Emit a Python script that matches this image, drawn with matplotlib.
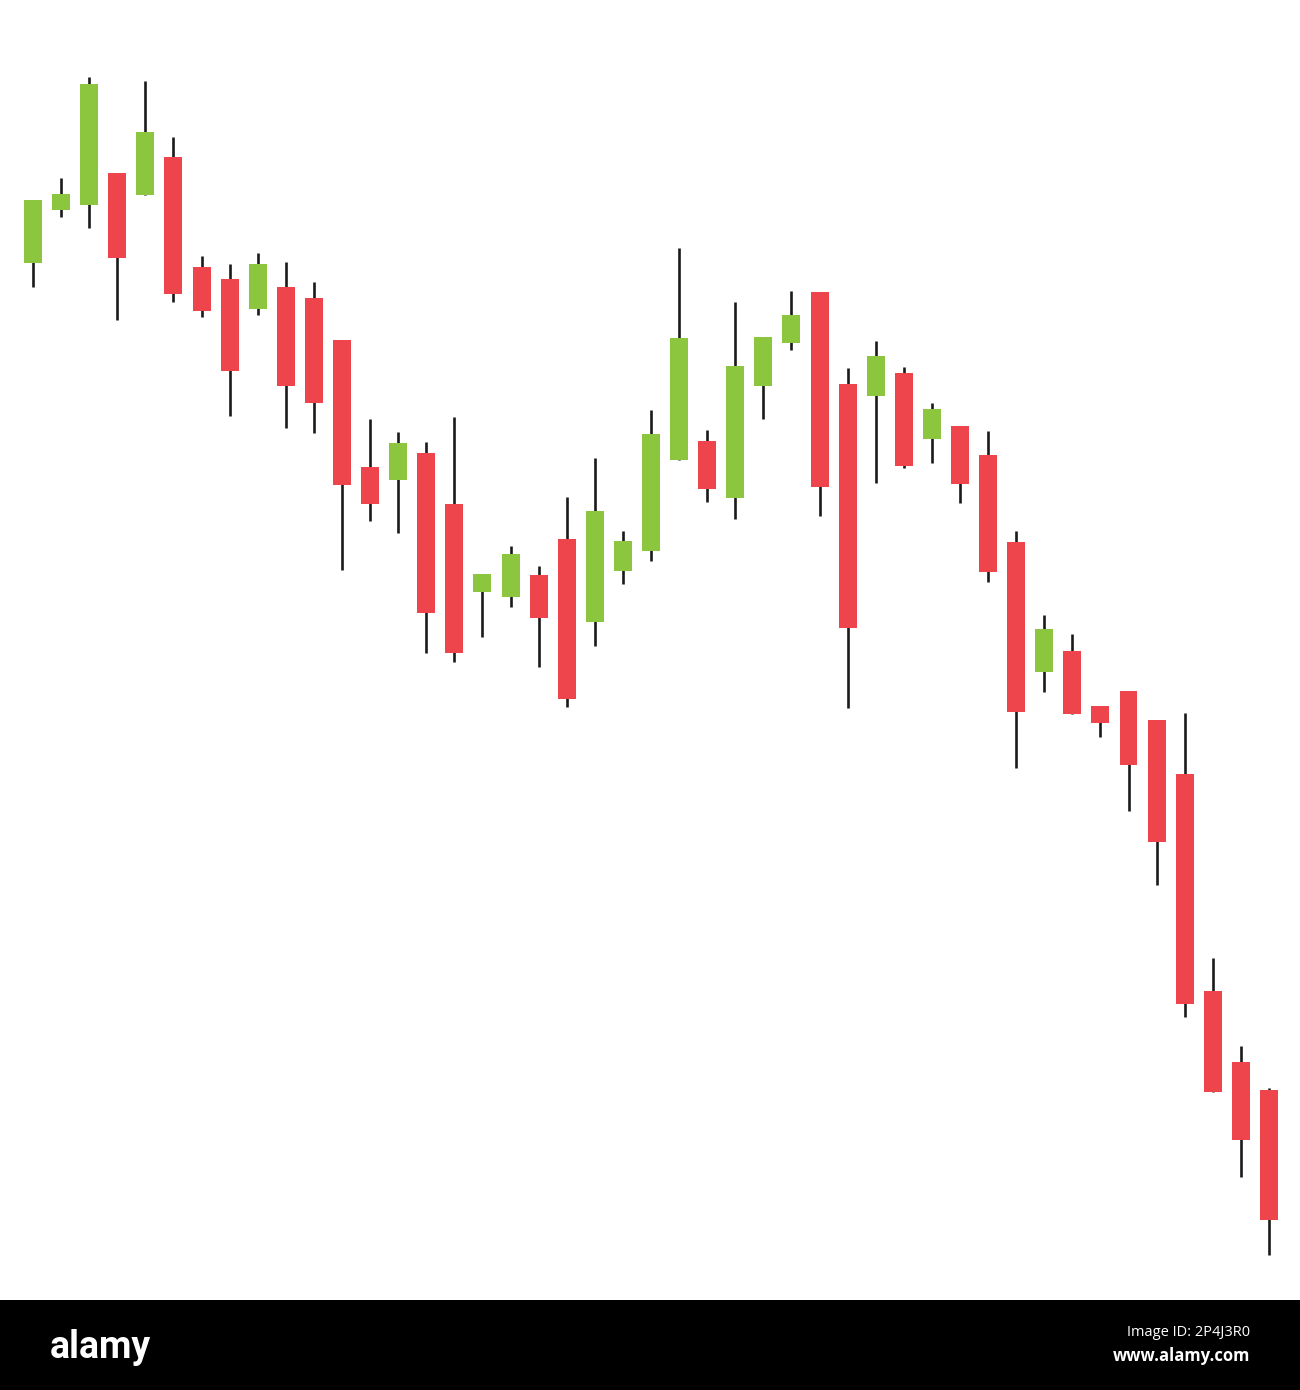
import matplotlib
matplotlib.use("Agg")
import matplotlib.pyplot as plt
import numpy as np

# OHLC (price units = pixels above the chart floor)
opens = [1037, 1090, 1095, 1127, 1105, 1143, 1033, 1021, 991, 1013, 1002, 960,
         833, 820, 847, 796, 708, 703, 725, 761, 678, 729, 749, 840, 859, 802,
         914, 957, 1008, 916, 904, 927, 861, 874, 845, 758, 628, 649, 594, 609,
         580, 526, 309, 238, 210]
highs = [1100, 1122, 1223, 1127, 1219, 1163, 1044, 1036, 1047, 1038, 1018, 960,
         881, 868, 858, 883, 726, 754, 734, 803, 842, 769, 890, 1052, 870, 998,
         963, 1009, 1008, 932, 959, 933, 897, 874, 869, 769, 685, 666, 594, 609,
         580, 587, 342, 254, 212]
lows = [1013, 1083, 1072, 980, 1105, 998, 983, 884, 985, 872, 867, 730,
        779, 767, 647, 638, 663, 693, 633, 593, 654, 716, 739, 840, 798, 781,
        881, 950, 784, 592, 817, 832, 837, 797, 718, 532, 608, 586, 563, 489,
        415, 283, 208, 123, 45]
closes = [1100, 1106, 1216, 1042, 1168, 1006, 989, 929, 1036, 914, 897, 815,
          796, 857, 687, 647, 726, 746, 682, 601, 789, 759, 866, 962, 811, 934,
          963, 985, 813, 672, 944, 834, 891, 816, 728, 588, 671, 586, 577, 535,
          458, 296, 208, 160, 80]

up_color = "#8cc63f"
down_color = "#ee444c"

fig = plt.figure(figsize=(13, 13.9), dpi=100)

# chart area: top 1300 px of the image
ax = fig.add_axes([0, 90 / 1390, 1, 1300 / 1390])
n = len(opens)
x = np.arange(n)
o = np.array(opens)
c = np.array(closes)
up = c >= o
colors = np.where(up, up_color, down_color)

ax.vlines(x, lows, highs, color="#1a1a1a", linewidth=1.9, zorder=1)
ax.bar(x, np.abs(c - o), bottom=np.minimum(o, c), width=0.64,
       color=colors, linewidth=0, zorder=2)

step = 28.09
ax.set_xlim(-33 / step, (1300 - 33) / step)
ax.set_ylim(0, 1300)
ax.axis("off")

# watermark bar at the bottom
wm = fig.add_axes([0, 0, 1, 90 / 1390])
wm.set_facecolor("black")
wm.set_xlim(0, 1300)
wm.set_ylim(0, 90)
wm.set_xticks([])
wm.set_yticks([])
for s in wm.spines.values():
    s.set_visible(False)

wm.text(50, 32, "alamy", color="white", fontsize=27, fontweight="bold",
        family=["Roboto", "DejaVu Sans"], ha="left", va="baseline")
wm.text(1250, 90 - 32, "Image ID: 2P4J3R0", color="white", fontsize=10.5,
        family=["Open Sans", "DejaVu Sans"], ha="right", va="center")
wm.text(1250, 90 - 56, "www.alamy.com", color="white", fontsize=12,
        fontweight="bold", family=["Open Sans", "DejaVu Sans"],
        ha="right", va="center")

fig.savefig("out.png", dpi=100)
